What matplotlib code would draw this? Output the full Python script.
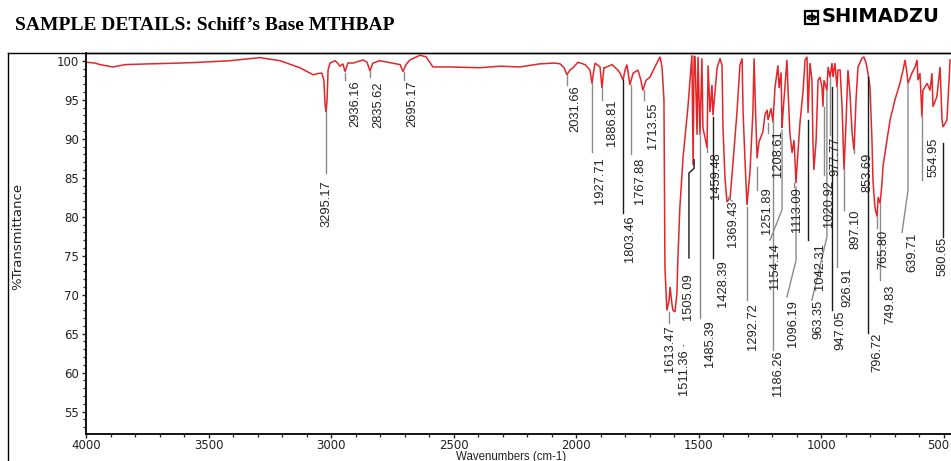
import matplotlib
matplotlib.use("Agg")
import matplotlib.pyplot as plt
from matplotlib.lines import Line2D
from matplotlib.patches import Rectangle, Circle
from matplotlib.ticker import MultipleLocator

# ---------------- data ----------------
wavenumber = [4000, 3963, 3943, 3890, 3841, 3739, 3616, 3535, 3412, 3290, 3208, 3127, 3073, 3045,
              3037, 3029, 3024, 3020, 3016, 3012, 3004, 2984, 2976, 2963, 2951, 2943, 2931, 2910,
              2869, 2853, 2841, 2829, 2800, 2751, 2718, 2706, 2694, 2678, 2637, 2612, 2584, 2514,
              2392, 2310, 2229, 2147, 2086, 2065, 2049, 2037, 2025, 2012, 1992, 1963, 1943, 1935,
              1927, 1922, 1902, 1894, 1886, 1882, 1853, 1829, 1820, 1808, 1800, 1792, 1780, 1767,
              1747, 1735, 1727, 1714, 1698, 1678, 1657, 1649, 1641, 1637, 1629, 1620, 1616, 1608,
              1604, 1596, 1588, 1584, 1576, 1563, 1543, 1534, 1527, 1522, 1518, 1514, 1506, 1502,
              1494, 1486, 1482, 1473, 1465, 1461, 1453, 1445, 1441, 1424, 1412, 1404, 1400, 1392,
              1384, 1371, 1359, 1343, 1331, 1322, 1318, 1310, 1302, 1290, 1278, 1273, 1269, 1261,
              1253, 1237, 1229, 1220, 1216, 1204, 1196, 1188, 1176, 1171, 1163, 1159, 1155, 1139,
              1135, 1127, 1118, 1110, 1102, 1098, 1086, 1073, 1065, 1057, 1053, 1045, 1037, 1033,
              1029, 1020, 1012, 1004, 996, 992, 988, 976, 971, 963, 955, 951, 943, 935, 931, 922,
              914, 906, 898, 890, 882, 873, 865, 857, 849, 833, 825, 816, 808, 800, 792, 788, 780,
              771, 767, 759, 751, 747, 731, 718, 698, 678, 665, 657, 649, 645, 629, 616, 608, 604,
              596, 588, 584, 567, 555, 547, 543, 527, 514, 506, 502, 486, 473]
transmittance = [99.8, 99.7, 99.5, 99.2, 99.5, 99.6, 99.7, 99.8, 100.0, 100.4, 100.0, 99.1, 98.2, 98.4,
                 98.4, 97.5, 94.3, 93.4, 95.0, 98.8, 99.7, 100.0, 99.8, 99.3, 99.6, 98.6, 99.7, 99.7,
                 100.1, 99.8, 98.7, 99.7, 100.0, 99.7, 99.5, 98.6, 99.5, 100.1, 100.7, 100.5, 99.2, 99.2,
                 99.1, 99.3, 99.2, 99.6, 99.7, 99.6, 99.1, 98.2, 98.8, 99.1, 99.8, 99.5, 98.8, 97.1,
                 98.8, 99.7, 99.2, 96.5, 99.1, 99.1, 99.5, 98.8, 98.4, 97.5, 98.8, 99.5, 96.9, 98.4,
                 98.8, 97.5, 96.2, 97.5, 97.9, 99.2, 100.5, 99.2, 95.0, 73.5, 68.0, 69.3, 71.0, 68.7,
                 68.0, 67.8, 70.2, 74.8, 81.2, 87.6, 94.1, 97.8, 100.7, 86.6, 100.6, 100.5, 90.5, 100.5,
                 90.5, 100.3, 91.4, 90.1, 88.8, 99.4, 93.4, 96.9, 93.0, 99.1, 100.3, 99.4, 91.4, 85.0,
                 81.9, 82.4, 87.0, 93.4, 99.4, 100.3, 93.4, 87.0, 81.5, 85.7, 93.4, 100.3, 95.6, 87.5,
                 89.6, 90.9, 93.0, 93.7, 92.4, 93.9, 92.1, 96.5, 99.4, 96.5, 98.5, 91.4, 93.4, 100.1,
                 96.6, 90.7, 88.2, 89.8, 84.3, 86.4, 92.0, 96.2, 100.1, 100.5, 93.3, 99.7, 97.5, 89.8,
                 86.0, 89.8, 97.5, 97.9, 96.6, 94.1, 97.5, 96.2, 99.2, 97.9, 99.7, 97.9, 99.7, 96.6, 98.8, 98.8,
                 94.1, 86.0, 92.0, 98.8, 95.9, 90.7, 88.5, 95.0, 99.2, 100.3, 100.5, 99.7, 98.4, 96.6, 89.8, 84.7, 81.2,
                 80.0, 82.5, 81.7, 84.3, 86.4, 89.8, 92.4, 95.0, 97.1, 98.8, 100.1, 98.4, 97.1, 98.4, 99.2, 100.1, 97.5,
                 98.4, 92.8, 96.2, 97.1, 96.2, 98.4, 94.1, 95.4, 99.2, 92.4, 91.5, 92.4, 100.1]

peak_labels = ["3295.17", "2936.16", "2835.62", "2695.17", "2031.66", "1927.71", "1886.81",
               "1803.46", "1767.88", "1713.55", "1613.47", "1511.36 \u00b7", "1505.09", "1485.39",
               "1459.48", "1428.39", "1369.43", "1292.72", "1251.89", "1208.61", "1186.26",
               "1154.14", "1113.09", "1096.19", "1042.31", "1020.92", "977.77", "963.35",
               "947.05", "926.91", "897.10", "853.69", "796.72", "765.80", "749.83", "639.71",
               "554.95", "580.65"]

x_ticks = [4000, 3500, 3000, 2500, 2000, 1500, 1000, 500]
x_tick_labels = ["4000", "3500", "3000", "2500", "2000", "1500", "1000", "500"]
y_ticks = [55, 60, 65, 70, 75, 80, 85, 90, 95, 100]

# ---------------- annotation layout (leader line path, text anchor, line colour) ----------------
G, K = "#8a8a8a", "#1a1a1a"
label_layout = [
    ([(3020, 93.4), (3020, 85.6)], (3020, 84.7), G),
    ([(2943, 98.4), (2943, 97.5)], (2902, 97.5), G),
    ([(2841, 98.7), (2841, 97.9)], (2808, 97.3), G),
    ([(2702, 98.6), (2702, 97.5)], (2669, 97.5), G),
    ([(2037, 98.2), (2037, 96.9)], (2004, 96.9), G),
    ([(1935, 97.1), (1935, 88.3)], (1902, 87.6), G),
    ([(1894, 96.5), (1894, 95.0)], (1853, 95.0), G),
    ([(1808, 97.5), (1808, 80.5)], (1780, 80.2), K),
    ([(1776, 96.9), (1776, 88.0)], (1739, 87.6), G),
    ([(1722, 96.2), (1722, 95.0)], (1686, 94.7), G),
    ([(1620, 67.8), (1620, 66.4)], (1616, 66.1), G),
    (None, (1555, 63.9), G),
    ([(1518, 87.3), (1518, 86.2), (1539, 85.6), (1539, 74.7)], (1543, 72.8), K),
    ([(1494, 90.5), (1494, 67.0)], (1453, 66.75), G),
    ([(1465, 88.8), (1465, 88.3)], (1429, 88.3), G),
    ([(1441, 92.8), (1441, 74.7)], (1400, 74.45), K),
    ([(1380, 82.5), (1363, 82.0)], (1359, 82.1), G),
    ([(1302, 81.2), (1302, 69.3)], (1278, 68.9), G),
    ([(1261, 86.4), (1261, 83.4)], (1220, 83.8), G),
    ([(1216, 92.0), (1216, 90.7)], (1176, 91.1), G),
    ([(1196, 92.4), (1196, 62.9)], (1176, 62.9), G),
    ([(1159, 91.1), (1159, 80.9), (1208, 77.0)], (1188, 76.6), G),
    ([(1110, 84.3), (1110, 83.8)], (1098, 83.8), G),
    ([(1102, 83.8), (1102, 74.4), (1139, 69.7)], (1114, 69.3), G),
    ([(1053, 92.4), (1053, 77.0)], (1004, 76.6), K),
    ([(988, 94.1), (988, 85.3)], (967, 84.7), G),
    ([(963, 97.9), (963, 90.5)], (943, 90.2), G),
    ([(976, 96.2), (976, 77.4), (1037, 69.3)], (1012, 69.3), G),
    ([(955, 96.6), (955, 68.0)], (922, 68.0), K),
    ([(935, 96.6), (935, 73.5)], (894, 73.5), G),
    ([(906, 86.0), (906, 80.9)], (861, 80.9), G),
    ([(865, 88.5), (865, 88.2)], (812, 88.2), G),
    ([(808, 97.9), (808, 65.1)], (771, 65.1), K),
    ([(771, 80.0), (771, 78.5)], (747, 78.3), G),
    ([(759, 81.7), (759, 71.9)], (718, 71.25), G),
    ([(645, 97.1), (645, 83.4), (669, 78.0)], (629, 77.9), G),
    ([(588, 92.8), (588, 84.7)], (539, 90.2), G),
    ([(502, 89.4), (502, 77.4)], (502, 77.4), K),
]

# ---------------- figure ----------------
W, H = 951, 461
fig = plt.figure(figsize=(W / 100, H / 100), dpi=100)
fig.patch.set_facecolor("white")

ax = fig.add_axes([86 / W, (H - 434) / H, (W - 86) / W, (434 - 53) / H])
ax.plot(wavenumber, transmittance, color="#e3262a", lw=1.1, solid_joinstyle="miter")

for (path, (tx, ty), col), lab in zip(label_layout, peak_labels):
    if path is not None:
        ax.plot([p[0] for p in path], [p[1] for p in path], color=col, lw=1.0)
    ax.text(tx, ty, lab, rotation=90, ha="center", va="top", fontsize=9.3,
            family="Liberation Sans", color="#222222")

ax.set_xlim(4000, 469.4)
ax.set_ylim(52.14, 100.99)
ax.set_xticks(x_ticks)
# last label is drawn separately, nudged left so it stays inside the canvas
ax.set_xticklabels(x_tick_labels[:-1] + [""])
ax.set_yticks(y_ticks)
ax.xaxis.set_minor_locator(MultipleLocator(100))
ax.yaxis.set_minor_locator(MultipleLocator(1))
ax.tick_params(which="major", direction="out", length=3.2, width=1.0, labelsize=8.5,
               colors="#222222")
ax.tick_params(axis="x", which="major", pad=0.2)
ax.tick_params(axis="y", which="major", pad=2)
ax.tick_params(which="minor", direction="out", length=2.2, width=0.9, colors="#222222")
for lab in ax.get_xticklabels() + ax.get_yticklabels():
    lab.set_family("DejaVu Sans")
ax.annotate(x_tick_labels[-1], xy=(x_ticks[-1], 0), xycoords=("data", "axes fraction"),
            xytext=(-4, -3.4), textcoords="offset points", ha="center", va="top",
            fontsize=8.5, family="DejaVu Sans", color="#222222", annotation_clip=False)
ax.spines["right"].set_visible(False)
ax.spines["top"].set_linewidth(1.0)
ax.spines["left"].set_linewidth(1.3)
ax.spines["bottom"].set_linewidth(1.3)

fig.text(511 / W, 1 - 456.8 / H, "Wavenumbers (cm-1)", ha="center", va="center",
         fontsize=8.3, family="Liberation Sans", color="#222222")
fig.text(18 / W, 1 - 236 / H, "%Transmittance", ha="center", va="center", rotation=90,
         fontsize=9.5, family="DejaVu Sans", color="#222222")

# outer frame
fig.add_artist(Line2D([8 / W, 1], [1 - 53 / H, 1 - 53 / H], color="black", lw=1.0))
fig.add_artist(Line2D([8 / W, 8 / W], [1 - 53 / H, 0], color="black", lw=1.0))

# header
fig.text(15 / W, 1 - 26 / H, "SAMPLE DETAILS: Schiff\u2019s Base MTHBAP", ha="left", va="center",
         fontsize=14, family="Liberation Serif", weight="bold", color="black")
fig.text(822 / W, 1 - 17 / H, "SHIMADZU", ha="left", va="center", fontsize=14,
         family="DejaVu Sans", weight="bold", color="black")
fig.add_artist(Rectangle((805 / W, 1 - 24 / H), 13 / W, 13 / H, fill=False, lw=1.6,
                         edgecolor="black", transform=fig.transFigure))
fig.add_artist(Circle((811.5 / W, 1 - 17.5 / H), 4.2 / W, fill=False, lw=1.3,
                      edgecolor="black", transform=fig.transFigure))
fig.add_artist(Line2D([807.5 / W, 815.5 / W], [1 - 17.5 / H, 1 - 17.5 / H], color="black", lw=1.2))
fig.add_artist(Line2D([811.5 / W, 811.5 / W], [1 - 13.5 / H, 1 - 21.5 / H], color="black", lw=1.2))

fig.savefig("out.png", dpi=100, facecolor="white")
